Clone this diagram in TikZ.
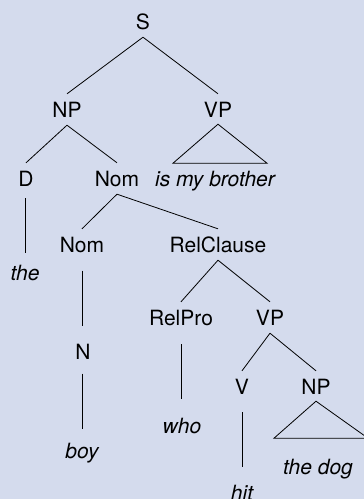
\documentclass[tikz,border=0pt]{standalone}
\usepackage{fontspec}
\setmainfont{TeX Gyre Heros}
\usepackage{tikz}
\usetikzlibrary{calc}
\definecolor{paleblue}{RGB}{212,219,237}

\begin{document}
\begin{tikzpicture}[
    x=1pt, y=1pt,
    cat/.style={anchor=base, inner xsep=1pt, inner ysep=0pt, text height=15pt, text depth=0pt, font=\fontsize{21}{25}\selectfont},
    word/.style={cat, font=\fontsize{21}{25}\selectfont\itshape},
    branch/.style={line width=0.8pt},
]

% Background
\useasboundingbox (0,0) rectangle (364,-499);
\fill[paleblue] (0,0) rectangle (364,-499);

% Categories
\node[cat] (S) at (143,-29) {S};
\node[cat] (NP) at (67,-117) {NP};
\node[cat] (VP) at (218,-117) {VP};
\node[cat] (D) at (26,-186) {D};
\node[cat] (Nom) at (117,-186) {Nom};
\node[cat] (Nomb) at (82,-252) {Nom};
\node[cat] (RelClause) at (218,-252) {RelClause};
\node[cat] (N) at (83,-359) {N};
\node[cat] (RelPro) at (181,-325) {RelPro};
\node[cat] (VPb) at (270,-325) {VP};
\node[cat] (V) at (242,-394) {V};
\node[cat] (NPb) at (316,-394) {NP};

% Words
\node[word] (brother) at (215,-186) {is my brother};
\node[word] (the) at (25,-280) {the};
\node[word] (boy) at (82,-458) {boy};
\node[word] (who) at (182,-433) {who};
\node[word] (hit) at (242,-500) {hit};
\node[word] (thedog) at (318,-474) {the dog};

% Branches
\foreach \a/\b in {S/NP, S/VP, NP/D, NP/Nom, Nom/Nomb, Nom/RelClause, RelClause/RelPro, RelClause/VPb, VPb/V, VPb/NPb}
    \draw[branch] ([yshift=-8pt]\a.south) -- ([yshift=8pt]\b.north);

% Unary lines
\foreach \a/\b in {D/the, Nomb/N, N/boy, RelPro/who, V/hit}
    \draw[branch] ($(\a.south)!0.5!(\b.north)$) ++(0,27.5) -- ++(0,-55);

% Triangles
\draw[branch] ([yshift=-7pt]VP.south) -- ++(-45,-39) -- ++(94,0) -- cycle;
\draw[branch] ([yshift=-7pt]NPb.south) -- ++(-42,-37) -- ++(94,0) -- cycle;

\end{tikzpicture}
\end{document}
